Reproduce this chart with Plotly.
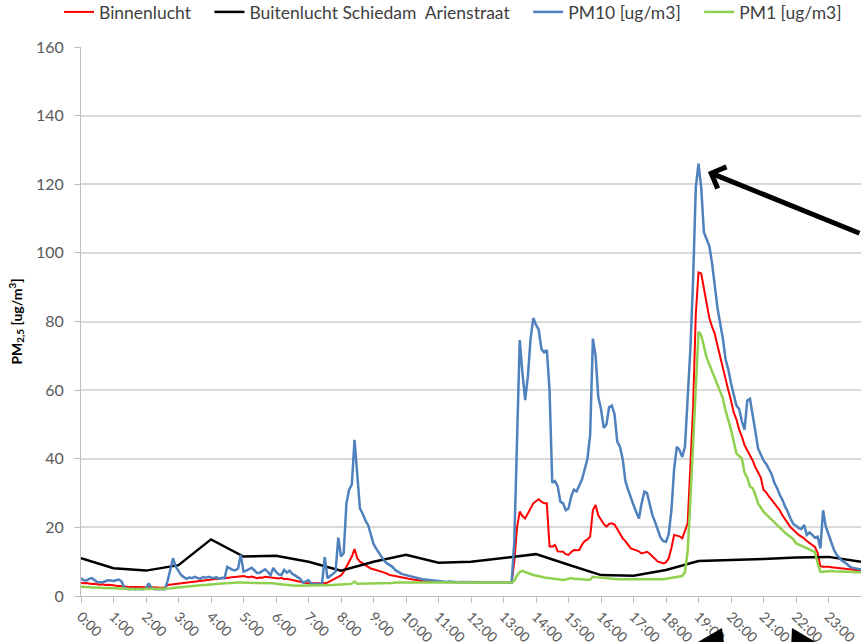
"""Indoor vs outdoor particulate matter over one day (5-minute readings)."""

import plotly.graph_objects as go

# 5-minute readings, one row per hour, last value is 24:00
binnenlucht = [
    3.9, 3.7, 3.8, 3.6, 3.5, 3.6, 3.4, 3.3, 3.4, 3.2, 3.3, 3.1,
    3.1, 3.0, 3.0, 2.9, 2.8, 2.7, 2.7, 2.6, 2.6, 2.5, 2.6, 2.5,
    2.5, 2.6, 2.5, 2.5, 2.5, 2.4, 2.5, 2.5, 3.2, 3.3, 3.4, 3.6,
    3.7, 3.8, 3.9, 4.0, 4.2, 4.3, 4.3, 4.5, 4.6, 4.6, 4.8, 4.8,
    4.9, 5.0, 5.0, 5.1, 5.2, 5.2, 5.4, 5.4, 5.5, 5.6, 5.6, 5.7,
    5.8, 5.6, 5.5, 5.7, 5.4, 5.2, 5.4, 5.3, 5.6, 5.5, 5.6, 5.4,
    5.2, 5.1, 5.3, 4.9, 5.0, 4.8, 4.6, 4.4, 4.3, 4.1, 3.9, 3.8,
    3.7, 3.7, 3.6, 3.7, 3.6, 3.8, 3.7, 3.9, 4.3, 4.6, 5.0, 5.6,
    6.0, 7.0, 8.5, 10.0, 11.5, 13.7, 11.0, 10.0, 9.5, 8.8, 8.3, 8.0,
    7.8, 7.6, 7.4, 7.0, 6.8, 6.5, 6.1, 6.0, 5.8, 5.6, 5.4, 5.3,
    5.2, 5.0, 4.9, 4.7, 4.6, 4.5, 4.4, 4.4, 4.3, 4.2, 4.2, 4.2,
    4.2, 4.1, 4.1, 4.1, 4.0, 4.1, 4.0, 4.0, 4.0, 4.0, 4.0, 4.0,
    4.0, 3.9, 3.9, 3.9, 3.9, 3.9, 3.9, 3.9, 3.9, 3.9, 3.9, 3.9,
    3.9, 3.9, 3.9, 3.9, 10.0, 20.0, 24.6, 23.3, 22.6, 24.0, 25.5, 27.0,
    27.6, 28.2, 27.5, 27.0, 27.0, 14.5, 14.4, 14.9, 13.0, 13.0, 12.9, 12.2,
    12.0, 12.8, 13.4, 13.3, 13.4, 15.0, 16.0, 16.5, 17.3, 25.0, 26.5, 23.5,
    22.2, 21.0, 20.2, 21.0, 21.2, 20.8, 19.5, 18.3, 16.8, 16.0, 14.8, 13.9,
    13.6, 13.4, 13.0, 12.4, 12.7, 12.9, 12.3, 11.5, 11.0, 10.0, 9.8, 9.5,
    9.8, 11.0, 14.0, 17.8, 17.6, 17.4, 16.8, 19.0, 21.2, 38.0, 55.0, 82.0,
    94.3, 94.0, 89.5, 84.5, 81.0, 78.5, 76.5, 73.0, 69.5, 66.9, 63.0, 60.0,
    57.0, 53.5, 51.5, 48.5, 46.5, 44.0, 42.5, 41.0, 39.5, 37.5, 36.0, 34.5,
    31.0, 30.2, 29.0, 28.0, 27.0, 25.8, 25.0, 23.5, 22.3, 21.3, 20.0, 19.3,
    18.5, 17.8, 17.3, 16.8, 16.0, 15.5, 15.0, 14.3, 12.5, 8.7, 8.5, 8.6,
    8.5, 8.4, 8.3, 8.2, 8.1, 8.1, 8.0, 7.9, 7.7, 7.6, 7.5, 7.4,
    7.4,
]

pm10 = [
    5.2, 4.6, 4.5, 5.0, 5.2, 4.6, 4.1, 4.0, 4.0, 4.3, 4.6, 4.5,
    4.4, 4.6, 4.8, 4.2, 2.4, 2.1, 2.0, 2.2, 2.0, 2.1, 2.0, 2.0,
    2.2, 3.7, 2.4, 2.0, 2.0, 2.0, 2.1, 2.0, 4.5, 8.0, 11.0, 8.5,
    7.1, 6.1, 5.5, 5.0, 5.4, 5.2, 5.6, 5.2, 5.0, 5.5, 5.3, 5.6,
    5.4, 5.2, 5.5, 5.0, 5.3, 5.2, 8.5, 8.0, 7.6, 7.5, 8.0, 12.0,
    7.1, 7.4, 7.8, 8.2, 7.5, 6.7, 6.8, 7.2, 7.8, 7.0, 6.1, 8.2,
    7.0, 6.3, 6.1, 7.6, 6.8, 7.4, 6.5, 6.0, 5.6, 5.0, 3.9, 4.2,
    4.6, 3.6, 3.5, 3.5, 3.5, 3.6, 11.3, 5.2, 5.8, 6.3, 7.1, 17.0,
    11.5, 12.5, 27.0, 31.0, 32.5, 45.5, 34.5, 25.5, 24.0, 22.0, 20.7, 17.5,
    15.2, 13.8, 12.6, 11.5, 10.2, 9.5, 9.0, 8.5, 7.6, 7.0, 6.6, 6.3,
    6.1, 5.8, 5.6, 5.3, 5.2, 5.0, 4.9, 4.8, 4.7, 4.5, 4.4, 4.3,
    4.3, 4.2, 4.2, 4.1, 4.2, 4.1, 4.2, 4.0, 4.1, 4.1, 4.0, 4.1,
    4.0, 4.0, 3.9, 4.0, 3.9, 3.9, 4.0, 3.9, 3.9, 3.9, 3.9, 3.9,
    3.9, 3.9, 3.9, 3.9, 16.0, 47.0, 74.6, 65.0, 57.1, 64.0, 75.0, 81.0,
    79.0, 77.6, 72.0, 71.0, 71.7, 60.0, 33.0, 33.5, 32.0, 27.5, 27.0, 25.0,
    25.5, 29.0, 31.0, 30.5, 32.5, 34.0, 37.0, 40.0, 47.0, 75.0, 70.0, 58.0,
    54.5, 49.0, 50.0, 55.0, 55.5, 53.0, 45.0, 43.5, 40.0, 33.5, 31.0, 28.5,
    26.5, 24.5, 22.6, 27.0, 30.4, 30.0, 26.5, 23.5, 21.5, 19.2, 17.0, 16.0,
    15.8, 18.0, 25.0, 37.0, 43.5, 42.5, 40.5, 43.5, 57.0, 72.0, 92.0, 119.0,
    126.0, 119.0, 106.0, 104.0, 102.0, 97.0, 90.0, 84.0, 79.5, 75.0, 69.0, 66.0,
    62.0, 59.0, 55.5, 54.5, 51.0, 48.5, 57.0, 57.5, 52.0, 48.0, 43.0, 41.0,
    39.5, 38.5, 37.0, 35.5, 33.0, 31.5, 29.5, 28.0, 26.0, 24.5, 22.5, 21.0,
    20.5, 19.8, 19.5, 20.7, 17.8, 18.5, 17.8, 17.0, 17.3, 13.9, 25.0, 20.2,
    18.0, 15.5, 13.5, 12.0, 11.0, 10.3, 9.8, 9.0, 8.5, 8.2, 8.0, 7.8,
    7.7,
]

pm1 = [
    2.7, 2.6, 2.6, 2.5, 2.5, 2.5, 2.4, 2.4, 2.4, 2.3, 2.3, 2.3,
    2.3, 2.2, 2.2, 2.2, 2.1, 2.1, 2.0, 2.0, 2.0, 2.0, 2.0, 2.0,
    2.0, 2.0, 2.0, 2.0, 2.0, 2.0, 2.0, 2.0, 2.1, 2.2, 2.3, 2.4,
    2.4, 2.5, 2.5, 2.6, 2.7, 2.8, 2.9, 3.0, 3.1, 3.2, 3.2, 3.3,
    3.4, 3.5, 3.5, 3.6, 3.6, 3.7, 3.7, 3.8, 3.8, 3.8, 3.9, 3.9,
    3.9, 3.9, 3.8, 3.9, 3.8, 3.8, 3.7, 3.8, 3.7, 3.7, 3.7, 3.7,
    3.6, 3.5, 3.4, 3.2, 3.2, 3.1, 3.1, 3.0, 3.0, 3.0, 3.0, 3.0,
    3.0, 3.0, 3.0, 3.0, 3.0, 3.0, 3.1, 3.1, 3.2, 3.2, 3.3, 3.3,
    3.4, 3.4, 3.4, 3.5, 3.6, 4.2, 3.6, 3.6, 3.6, 3.6, 3.7, 3.7,
    3.7, 3.7, 3.8, 3.8, 3.8, 3.8, 3.8, 3.8, 3.9, 3.9, 3.9, 3.9,
    3.9, 3.9, 3.9, 3.9, 3.9, 3.9, 3.9, 3.9, 3.9, 3.9, 3.9, 3.9,
    3.9, 3.9, 3.9, 3.9, 3.9, 3.9, 3.9, 3.9, 3.9, 3.9, 3.9, 3.9,
    3.9, 3.9, 3.9, 3.9, 3.9, 3.9, 3.9, 3.9, 3.9, 3.9, 3.9, 3.9,
    3.9, 3.9, 3.9, 3.9, 4.5, 6.0, 7.0, 7.3, 7.0, 6.6, 6.4, 6.1,
    6.0, 5.8, 5.6, 5.4, 5.3, 5.1, 4.9, 4.9, 4.8, 4.8, 4.7, 4.8,
    5.0, 5.2, 5.0, 4.9, 4.9, 4.8, 4.8, 4.7, 4.7, 5.6, 5.5, 5.4,
    5.3, 5.2, 5.1, 5.1, 5.0, 4.9, 4.9, 4.9, 4.9, 4.8, 4.9, 4.9,
    4.9, 4.8, 4.8, 4.7, 4.7, 4.7, 4.8, 4.8, 4.8, 4.9, 4.9, 4.9,
    5.0, 5.1, 5.3, 5.5, 5.6, 5.7, 5.8, 7.0, 13.0, 28.0, 45.0, 62.0,
    77.0, 76.0, 72.5, 69.5, 67.5, 65.5, 63.5, 62.0, 59.5, 57.6, 54.0, 51.5,
    48.5, 45.0, 41.6, 40.8, 40.1, 36.0, 34.5, 31.9, 31.4, 29.5, 27.0, 25.8,
    24.6, 23.8, 23.0, 22.2, 21.3, 20.6, 20.0, 19.2, 18.4, 17.8, 17.2, 16.6,
    15.4, 15.0, 14.7, 14.4, 14.0, 13.6, 13.2, 12.8, 9.5, 7.1, 7.1, 7.2,
    7.2, 7.3, 7.2, 7.2, 7.1, 7.1, 7.1, 7.0, 7.0, 7.0, 6.9, 6.9,
    6.9,
]

# hourly outdoor station values, 0:00 .. 24:00
buitenlucht = [
    11.0, 8.1, 7.4, 9.0, 16.5, 11.5, 11.7, 10.0, 7.4, 10.0, 12.0, 9.7,
    10.0, 11.0, 12.2, 9.1, 6.1, 5.9, 7.6, 10.2, 10.4, 10.8, 11.2, 11.4,
    10.0,
]

hour_labels = [f"{h}:00" for h in range(24)]

TICK_COLOR = "#595959"
GRID_COLOR = "#d9d9d9"
AXIS_COLOR = "#bfbfbf"
FONT = "Lato, 'Open Sans', sans-serif"
PAD = "\u00a0" * 3  # Excel leaves a wide gap between legend entries

t_5min = [i / 12 for i in range(len(pm10))]
t_hour = list(range(len(buitenlucht)))

fig = go.Figure()

series = [
    ("Binnenlucht", t_5min, binnenlucht, "#ff0000", 2),
    ("Buitenlucht Schiedam\u00a0\u00a0Arienstraat", t_hour, buitenlucht, "#000000", 2.5),
    ("PM10 [ug/m3]", t_5min, pm10, "#4f81bd", 2.5),
    ("PM1 [ug/m3]", t_5min, pm1, "#8fd14f", 2.5),
]
for name, xs, ys, color, width in series:
    fig.add_trace(
        go.Scatter(
            x=xs,
            y=ys,
            name=name + PAD,
            mode="lines",
            line={"color": color, "width": width},
        )
    )

# arrow pointing at the PM10 peak, tail runs off the right edge
fig.add_annotation(
    x=19.29, y=123.6, xref="x", yref="y",
    ax=200, ay=62, axref="pixel", ayref="pixel",
    text="", showarrow=True,
    arrowhead=4, arrowsize=0.9, arrowwidth=5, arrowcolor="#000000",
)

# two arrow heads poking in from below the picture
for path in [
    "M 0.8218,-0.0583 L 0.7821,-0.0911 L 0.8256,-0.0984 Z",
    "M 0.9115,-0.0583 L 0.9103,-0.0947 L 0.9551,-0.0947 Z",
]:
    fig.add_shape(
        type="path", path=path, xref="paper", yref="paper",
        fillcolor="#000000", line={"width": 0},
    )

fig.update_layout(
    width=861,
    height=642,
    paper_bgcolor="white",
    plot_bgcolor="white",
    font={"family": FONT, "color": TICK_COLOR},
    margin={"l": 81, "r": 0, "t": 47, "b": 46, "autoexpand": False},
    showlegend=True,
    legend={
        "orientation": "h",
        "x": -0.0282,
        "y": 1.0965,
        "xanchor": "left",
        "yanchor": "top",
        "font": {"size": 17.5, "color": "#404040", "family": FONT},
        "bgcolor": "rgba(0,0,0,0)",
    },
    xaxis={
        "range": [0, 24],
        "automargin": False,
        "tickmode": "array",
        "tickvals": list(range(24)),
        "ticktext": hour_labels,
        "tickangle": 45,
        "tickfont": {"size": 14, "color": TICK_COLOR},
        "showgrid": False,
        "zeroline": False,
        "showline": True,
        "linecolor": AXIS_COLOR,
        "linewidth": 1,
        "ticks": "outside",
        "ticklen": 6,
        "tickcolor": AXIS_COLOR,
    },
    yaxis={
        "range": [0, 160],
        "automargin": False,
        "dtick": 20,
        "tickfont": {"size": 16, "color": TICK_COLOR},
        "ticklabelstandoff": 7,
        "showgrid": True,
        "gridcolor": GRID_COLOR,
        "gridwidth": 1.5,
        "zeroline": False,
        "showline": True,
        "linecolor": AXIS_COLOR,
        "ticks": "outside",
        "ticklen": 6,
        "tickcolor": AXIS_COLOR,
        "title": {
            "text": "<b>PM<sub>2,5</sub> [ug/m<sup>3</sup>]</b>",
            "font": {"size": 14, "color": "#000000"},
            "standoff": 10,
        },
    },
)

# drop the default page margin so the figure fills the window exactly
fig.write_html(
    "out.html",
    config={"displayModeBar": False},
    post_script="document.body.style.margin='0';document.body.style.overflow='hidden';",
)
